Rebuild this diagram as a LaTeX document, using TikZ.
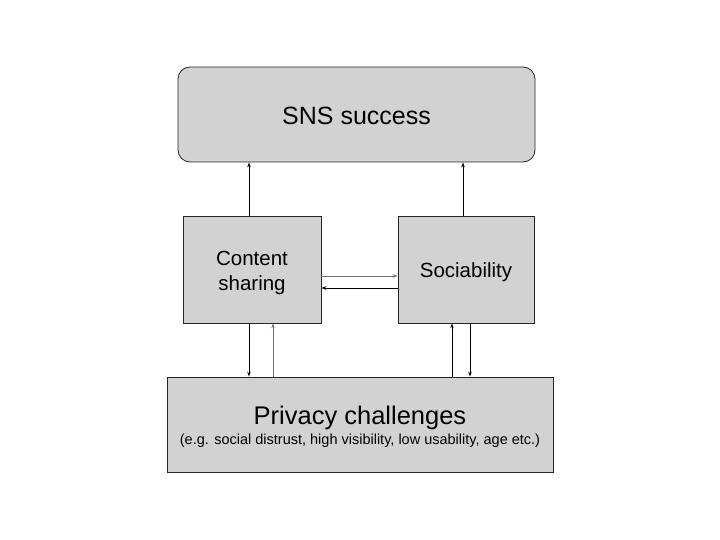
\documentclass[tikz,border=0pt]{standalone}
\usepackage{fontspec}
\setmainfont{Liberation Sans}
\usetikzlibrary{arrows.meta}

\begin{document}
\begin{tikzpicture}[x=1pt, y=-1pt,
  box/.style={draw=black!85, line width=0.8pt, fill=gray!35, inner sep=0pt},
  txt/.style={align=center, inner sep=0pt},
  dark/.style={draw=black, line width=0.8pt, -{Stealth[length=5pt,width=3.5pt]}},
  light/.style={draw=black!55, line width=0.6pt, -{Stealth[length=5pt,width=3.5pt]}}]
  \useasboundingbox (0,0) rectangle (720,540);

  % Cajas
  \node[box, rounded corners=12pt, minimum width=357pt, minimum height=95pt,
    label={[txt, font=\fontsize{25}{30}\selectfont, yshift=-1pt]center:SNS success}]
    (sns) at (356.5,114.5) {};
  \node[box, minimum width=138pt, minimum height=107pt,
    label={[txt, font=\fontsize{20.5}{25}\selectfont, yshift=-3pt]center:Content\\sharing}]
    (content) at (252,269.5) {};
  \node[box, minimum width=136pt, minimum height=107pt,
    label={[txt, font=\fontsize{20.5}{25}\selectfont, yshift=-3pt]center:Sociability}]
    (social) at (466,269.5) {};
  \node[box, minimum width=386pt, minimum height=95pt,
    label={[txt, yshift=-2pt]center:{\fontsize{25.5}{22}\selectfont Privacy challenges}\\[3pt]
      {\fontsize{14.5}{16}\selectfont (e.g. social distrust, high visibility, low usability, age etc.)}}]
    (privacy) at (360,424.5) {};

  % Flechas
  \draw[dark] ([xshift=-3pt]content.north) -- ([xshift=-3pt]content.north |- sns.south);
  \draw[dark] ([xshift=-3pt]social.north) -- ([xshift=-3pt]social.north |- sns.south);
  \draw[light] ([yshift=-6.5pt]content.east) -- ([yshift=-6.5pt]content.east -| social.west);
  \draw[dark] ([yshift=-18.5pt]social.west) -- ([yshift=-18.5pt]social.west -| content.east);
  \draw[dark] ([xshift=-3pt]content.south) -- ([xshift=-3pt]content.south |- privacy.north);
  \draw[light] ([xshift=21pt]content.south |- privacy.north) -- ([xshift=21pt]content.south);
  \draw[dark] ([xshift=-14pt]social.south |- privacy.north) -- ([xshift=-14pt]social.south);
  \draw[dark] ([xshift=4pt]social.south) -- ([xshift=4pt]social.south |- privacy.north);
\end{tikzpicture}
\end{document}
